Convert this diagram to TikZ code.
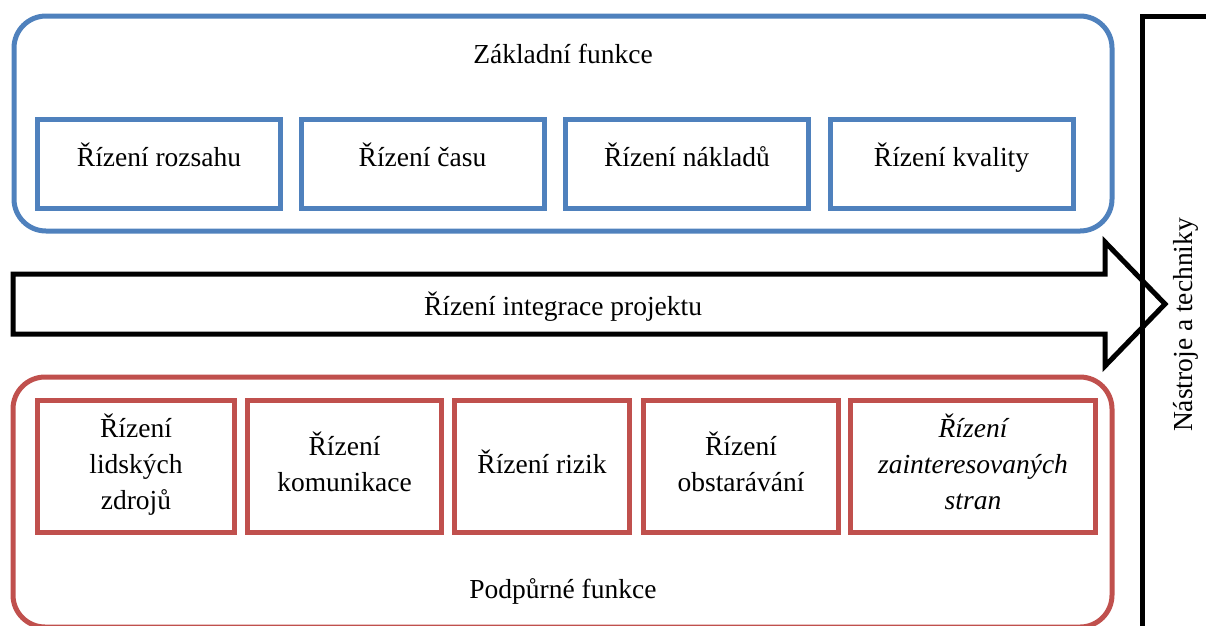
\documentclass[tikz,border=0pt]{standalone}
\usepackage{fontspec}
\setmainfont{Liberation Serif}
\definecolor{coreblue}{HTML}{4F81BD}
\definecolor{supred}{HTML}{C0504D}
\begin{document}
\begin{tikzpicture}[x=1pt,y=-1pt,
  txt/.style={font=\fontsize{27.5}{36}\selectfont, inner sep=0pt},
  frame/.style={line width=5pt, rounded corners=32pt},
  corebox/.style={txt, draw=coreblue, line width=5pt, rectangle,
    minimum width=243pt, minimum height=89pt, text height=20pt, text depth=16pt},
  supbox/.style={txt, draw=supred, line width=5pt, rectangle,
    minimum height=132pt, align=center},
  blackline/.style={line width=5pt, line join=miter}]
\useasboundingbox (0,0) rectangle (1206,625);
\clip (0,0) rectangle (1206,625);

% core functions
\draw[frame, coreblue] (14,16) rectangle (1112,231);
\node[txt, anchor=base] (coretitle) at (563,63) {Základní funkce};
\node[corebox] (scope)   at (159,164)   {Řízení rozsahu};
\node[corebox] (time)    at (422.5,164) {Řízení času};
\node[corebox] (cost)    at (687,164)   {Řízení nákladů};
\node[corebox] (quality) at (951.5,164) {Řízení kvality};

% integration arrow
\draw[blackline, fill=white] (13,274) -- (1105,274) -- (1105,242) -- (1165,304)
  -- (1105,366) -- (1105,334) -- (13,334) -- cycle;
\node[txt, anchor=base] (integration) at (563,315) {Řízení integrace projektu};

% tools and techniques bracket
\draw[blackline] (1210,16) -- (1142,16) -- (1142,632);
\node[txt, anchor=base, rotate=90] (tools) at (1192,325) {Nástroje a techniky};

% supporting functions
\draw[frame, supred] (13,377) rectangle (1112,627);
\node[txt, anchor=base] (suptitle) at (563,598) {Podpůrné funkce};
\node[supbox, minimum width=197pt] (hr)   at (136,466.5)
  {\strut Řízení\\\strut lidských\\\strut zdrojů};
\node[supbox, minimum width=194pt] (comm) at (344.5,466.5)
  {\strut Řízení\\\strut komunikace};
\node[supbox, minimum width=175pt] (risk) at (542,466.5)
  {\strut Řízení rizik};
\node[supbox, minimum width=195pt] (proc) at (741,466.5)
  {\strut Řízení\\\strut obstarávání};
\node[supbox, minimum width=245pt, font=\fontsize{27.5}{36}\selectfont\itshape] (stake) at (973,466.5)
  {\strut Řízení\\\strut zainteresovaných\\\strut stran};
\end{tikzpicture}
\end{document}
